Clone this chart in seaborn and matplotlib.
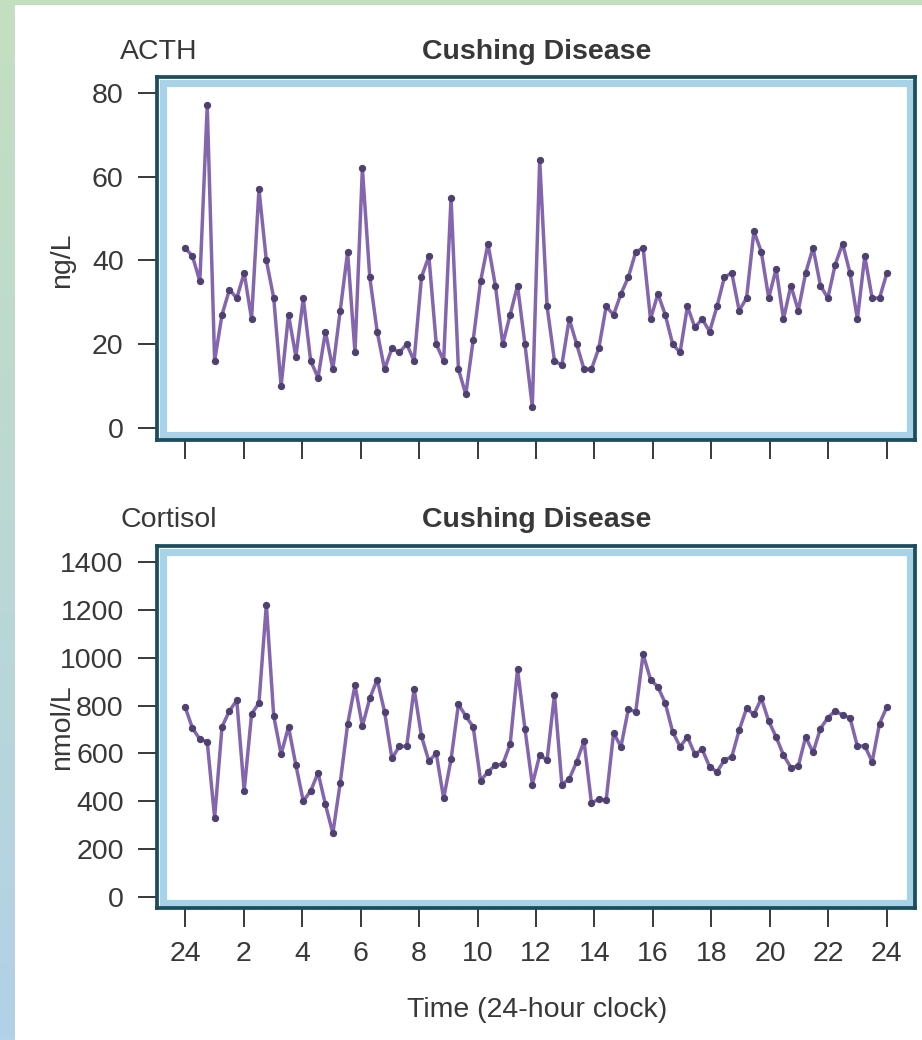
import numpy as np
import matplotlib
matplotlib.use('Agg')
import matplotlib.pyplot as plt
import seaborn as sns
from matplotlib.patches import Rectangle
from matplotlib.colors import LinearSegmentedColormap

# 24 h sampling
time_h = np.linspace(0, 24, 96)
acth = [43, 41, 35, 77, 16, 27, 33, 31, 37, 26, 57, 40, 31, 10, 27, 17, 31, 16, 12, 23,
        14, 28, 42, 18, 62, 36, 23, 14, 19, 18, 20, 16, 36,
        41, 20, 16, 55, 14, 8, 21, 35, 44, 34, 20, 27, 34, 20, 5, 64, 29, 16,
        15, 26, 20, 14, 14, 19, 29, 27, 32, 36, 42, 43, 26, 32,
        27, 20, 18, 29, 24, 26, 23, 29, 36, 37, 28, 31, 47, 42, 31, 38, 26, 34,
        28, 37, 43, 34, 31, 39, 44, 37, 26, 41, 31, 31, 37]
cortisol = [795, 705, 660, 648, 331, 711, 778, 822, 444, 764, 811, 1222, 756, 597, 711,
            551, 401, 443, 519, 387, 266, 477, 721, 885, 714, 830, 909, 774, 579, 630,
            630, 871, 672,
            568, 600, 412, 575, 805, 756, 711, 486, 523, 551, 555, 638, 952, 704, 470,
            593, 572, 846, 470, 493, 565, 651, 394, 408, 405, 686, 628, 785, 774, 1015,
            909, 878,
            810, 690, 628, 669, 597, 617, 544, 523, 572, 586, 697, 788, 763, 830, 735,
            669, 593, 541, 547, 669, 604, 704, 749, 778, 760, 749, 630, 632, 565, 725, 795]

x_ticks = list(range(0, 25, 2))
x_labels = ['24'] + [str(h) for h in range(2, 25, 2)]
acth_ticks = [0, 20, 40, 60, 80]
cortisol_ticks = list(range(0, 1401, 200))

sns.set_theme(style='white')
plt.rcParams['font.family'] = ['Liberation Sans', 'DejaVu Sans']

W, H = 922, 1040
fs = 20.5
text_c = '#383838'
dark = '#1b4d5e'
band = '#a8d2e8'
line_c = '#8366ad'
dot_c = '#4e4170'

fig = plt.figure(figsize=(W / 100, H / 100), dpi=100, facecolor='white')


def box(l, t, r, b):
    return [l / W, 1 - b / H, (r - l) / W, (b - t) / H]


# background strips
grad = LinearSegmentedColormap.from_list('bg', ['#b3d1e7', '#c4dfc0'])
bg = fig.add_axes([0, 0, 14 / W, 1])
bg.imshow(np.linspace(0, 1, 256).reshape(-1, 1), aspect='auto', cmap=grad, origin='lower')
bg.axis('off')
fig.patches.append(Rectangle((0, 1 - 4 / H), 1, 4 / H, transform=fig.transFigure,
                             color='#c4dfc0', zorder=0))

ax1 = fig.add_axes(box(157, 77, 915, 440))
ax2 = fig.add_axes(box(157, 546, 915, 908))

panels = [
    (ax1, acth, acth_ticks, (-2.9, 83.8), 363),
    (ax2, cortisol, cortisol_ticks, (-46, 1467), 362),
]
for ax, vals, yt, ylim, hpx in panels:
    sns.lineplot(x=time_h, y=vals, ax=ax, color=line_c, linewidth=2.5, marker='o',
                 markersize=4.5, markerfacecolor=dot_c, markeredgecolor=dot_c, zorder=3)
    ax.set_xlim(-0.96, 24.96)
    ax.set_ylim(*ylim)
    ax.set_xticks(x_ticks)
    ax.set_yticks(yt)
    ax.set_yticklabels([str(v) for v in yt])
    ax.set_xlabel('')
    ax.set_ylabel('')
    ax.tick_params(axis='both', direction='out', length=14, width=1.4, color=text_c,
                   labelsize=fs, labelcolor=text_c, pad=10, bottom=True, left=True)
    for s in ax.spines.values():
        s.set_color(dark)
        s.set_linewidth(2.7)
    # light blue inner band of the frame
    off = 5.5
    ax.add_patch(Rectangle((off / 758, off / hpx), 1 - 2 * off / 758, 1 - 2 * off / hpx,
                           transform=ax.transAxes, fill=False, edgecolor=band,
                           linewidth=5.2, zorder=1))

ax1.tick_params(labelbottom=False)
ax2.set_xticklabels(x_labels)

fig.text(120 / W, 1 - 52 / H, 'ACTH', ha='left', va='center', fontsize=fs, color=text_c)
fig.text(537 / W, 1 - 52 / H, 'Cushing Disease', ha='center', va='center', fontsize=fs,
         fontweight='bold', color=text_c)
fig.text(62 / W, 1 - 260 / H, 'ng/L', rotation=90, ha='center', va='center',
         fontsize=fs, color=text_c)
fig.text(120 / W, 1 - 520 / H, 'Cortisol', ha='left', va='center', fontsize=fs, color=text_c)
fig.text(537 / W, 1 - 520 / H, 'Cushing Disease', ha='center', va='center', fontsize=fs,
         fontweight='bold', color=text_c)
fig.text(62 / W, 1 - 727 / H, 'nmol/L', rotation=90, ha='center', va='center',
         fontsize=fs, color=text_c)
fig.text(537 / W, 1 - 1010 / H, 'Time (24-hour clock)', ha='center', va='center',
         fontsize=fs, color=text_c)

fig.savefig('out.png', dpi=100, facecolor='white')
